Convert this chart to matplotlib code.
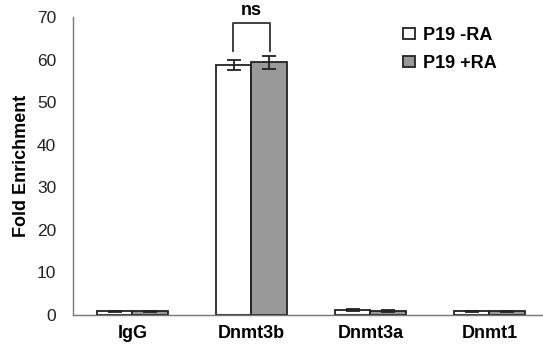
import matplotlib
matplotlib.use("Agg")
import matplotlib.pyplot as plt
import numpy as np

categories = ["IgG", "Dnmt3b", "Dnmt3a", "Dnmt1"]
minus_ra = [0.9, 58.7, 1.2, 0.9]
plus_ra = [0.9, 59.3, 0.9, 0.9]
minus_err = [0.1, 1.1, 0.2, 0.1]
plus_err = [0.1, 1.6, 0.2, 0.1]
series_labels = ["P19 -RA", "P19 +RA"]
yticks = [0, 10, 20, 30, 40, 50, 60, 70]

plt.rcParams['font.family'] = ['Liberation Sans', 'DejaVu Sans']

fig = plt.figure(figsize=(5.43, 3.47), dpi=100)
ax = fig.add_axes([0.1344, 0.0922, 0.8656, 0.859])

x = np.arange(len(categories))
w = 0.295
ekw = dict(elinewidth=1.3, capthick=1.3, ecolor='#222222')
ax.bar(x - w / 2, minus_ra, w, yerr=minus_err, capsize=5, color='white',
       edgecolor='#222222', linewidth=1.3, label=series_labels[0], error_kw=ekw)
ax.bar(x + w / 2, plus_ra, w, yerr=plus_err, capsize=5, color='#999999',
       edgecolor='#222222', linewidth=1.3, label=series_labels[1], error_kw=ekw)

ax.set_xlim(-0.5, 3.45)
ax.set_ylim(0, 70)
ax.set_yticks(yticks)
ax.set_xticks(x)
ax.set_xticklabels(categories, fontsize=13, fontweight='bold')
ax.tick_params(axis='y', length=0, labelsize=12.5, pad=12, colors='#222222')
ax.tick_params(axis='x', length=0, pad=7)
ax.set_ylabel("Fold Enrichment", fontsize=13, fontweight='bold', labelpad=5)
for s in ['top', 'right']:
    ax.spines[s].set_visible(False)
for s in ['left', 'bottom']:
    ax.spines[s].set_color('#777777')
    ax.spines[s].set_linewidth(1.0)

# significance bracket
xl, xr = 1 - w / 2 - 0.01, 1 + w / 2 + 0.01
ax.plot([xl, xl, xr, xr], [62, 68.5, 68.5, 62], color='#333333', lw=1.3, clip_on=False)
ax.text(1, 69.4, "ns", ha='center', va='bottom', fontsize=13, fontweight='bold', clip_on=False)

ax.legend(loc='upper right', bbox_to_anchor=(0.937, 1.02), frameon=False,
          prop={'size': 13, 'weight': 'bold'}, handlelength=0.7, handleheight=0.55,
          handletextpad=0.45, labelspacing=0.6)

fig.savefig("out.png", dpi=100)
